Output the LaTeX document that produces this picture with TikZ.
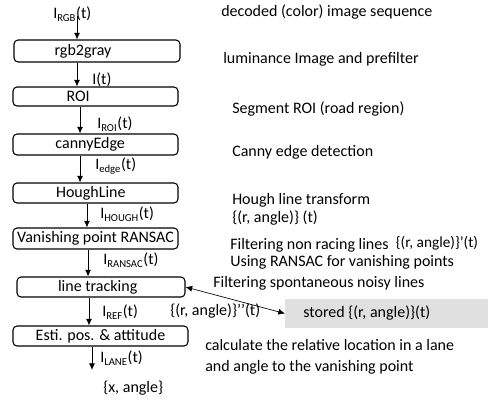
\documentclass[tikz,border=0pt]{standalone}
\usepackage{fontspec}
\setmainfont{Carlito}
\usetikzlibrary{arrows.meta}

\tikzset{
  every node/.style={font=\fontsize{12}{14}\selectfont},
  stage/.style={draw=black, line width=0.8pt, rounded corners=3pt, inner sep=0pt, minimum height=15pt},
  sig/.style={anchor=west, inner sep=0pt},
  note/.style={anchor=west, inner sep=0pt},
  flow/.style={-{Latex[length=5pt,width=4.5pt]}, line width=0.6pt},
}

\begin{document}
\begin{tikzpicture}[x=0.75pt,y=-0.75pt]
\useasboundingbox (0,0) rectangle (488,401);

		% processing chain
		\node[stage,minimum width=124.5pt,minimum height=16.5pt,label={[xshift=-10.5pt]center:rgb2gray}] (Gray) at (97,51) {};
		\node[stage,minimum width=123.75pt,minimum height=14.25pt,label={[xshift=-13pt]center:ROI}] (ROI) at (95.5,96.5) {};
		\node[stage,minimum width=123.75pt,minimum height=15.75pt] (Canny) at (95.5,144.5) {\hspace*{-8pt}cannyEdge};
		\node[stage,minimum width=123.75pt] (Hough) at (95.5,193) {\hspace*{-7pt}HoughLine};
		\node[stage,minimum width=123.75pt,minimum height=15.75pt] (Vanish) at (95.5,238.5) {Vanishing point RANSAC};
		\node[stage,minimum width=126pt] (Track) at (101,287) {\hspace*{-5pt}line tracking};
		\node[stage,minimum width=131.25pt] (Esti) at (100.5,336) {Esti. pos. \& attitude};

		\node[fill=black!12,inner sep=0pt,minimum width=152.25pt,minimum height=21.75pt,anchor=west] (Stored) at (285,313.5) {\hspace*{-30pt}stored \{(r, angle)\}(t)};

		% signals
		\coordinate (In) at (77,16);
		\coordinate (Out) at (92,370);
		\node[sig] (IRGB) at (53,14) {I\textsubscript{RGB}(t)};
		\node[sig] (IGray) at (92,80) {I(t)};
		\node[sig] (IROI) at (97,124) {I\textsubscript{ROI}(t)};
		\node[sig] (IEdge) at (95,166) {I\textsubscript{edge}(t)};
		\node[sig] (IHough) at (100,214) {I\textsubscript{HOUGH}(t)};
		\node[sig] (IRansac) at (103,260) {I\textsubscript{RANSAC}(t)};
		\node[sig] (IRef) at (102,312) {I\textsubscript{REF}(t)};
		\node[sig] (ILane) at (100,358) {I\textsubscript{LANE}(t)};
		\node[sig] (XAngle) at (103,388) {\{x, angle\}};
		\node[sig] (RAngleTwo) at (170,311) {\{(r, angle)\}’’(t)};

		% notes
		\node[note] (Decoded) at (221,12) {decoded (color) image sequence};
		\node[note] (Lumi) at (223,59) {luminance Image and prefilter};
		\node[note] (Segment) at (232,109) {Segment ROI (road region)};
		\node[note] (CannyNote) at (232,152) {Canny edge detection};
		\node[note] (HoughNote) at (232,200) {Hough line transform};
		\node[note] (RAngle) at (232,218) {\{(r, angle)\} (t)};
		\node[note] (FiltNR) at (230,245) {Filtering non racing lines};
		\node[note,font=\fontsize{11.5}{13}\selectfont] (RAngleOne) at ([xshift=5pt,yshift=1.5pt]FiltNR.east) {\{(r, angle)\}’(t)};
		\node[note] (Ransac) at (230,262) {Using RANSAC for vanishing points};
		\node[note] (FiltSN) at (213,283) {Filtering spontaneous noisy lines};
		\node[note] (Calc) at (205,345) {calculate the relative location in a lane};
		\node[note] (Calc2) at (205,367) {and angle to the vanishing point};

		\draw[flow] (In) -- (In |- Gray.north);
		\draw[flow] ([xshift=-15pt]Gray.south) -- ([xshift=-15pt]Gray.south |- ROI.north);
		\draw[flow] ([xshift=-11.6pt]ROI.south) -- ([xshift=-11.6pt]ROI.south |- Canny.north);
		\draw[flow] ([xshift=-11.6pt]Canny.south) -- ([xshift=-11.6pt]Canny.south |- Hough.north);
		\draw[flow] ([xshift=-6.4pt]Hough.south) -- ([xshift=-6.4pt]Hough.south |- Vanish.north);
		\draw[flow] ([xshift=-5.6pt]Vanish.south) -- ([xshift=-5.6pt]Vanish.south |- Track.north);
		\draw[flow] ([xshift=-9pt]Track.south) -- ([xshift=-9pt]Track.south |- Esti.north);
		\draw[flow] (Out |- Esti.south) -- (Out);

		\draw[{Latex[length=5pt,width=4.5pt]}-{Latex[length=5pt,width=4.5pt]},line width=0.5pt] (Track.east) -- (Stored.west);
\end{tikzpicture}
\end{document}
